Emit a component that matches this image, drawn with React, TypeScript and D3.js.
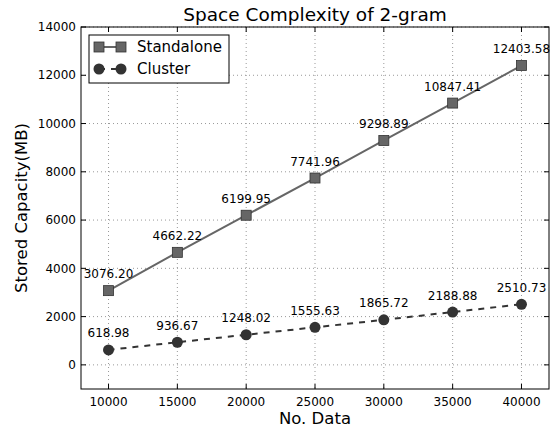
import React, { useEffect, useRef } from "react";
import * as d3 from "d3";

const noData = [10000, 15000, 20000, 25000, 30000, 35000, 40000];
const standalone = [3076.2, 4662.22, 6199.95, 7741.96, 9298.89, 10847.41, 12403.58];
const cluster = [618.98, 936.67, 1248.02, 1555.63, 1865.72, 2188.88, 2510.73];
const xTicks = [10000, 15000, 20000, 25000, 30000, 35000, 40000];
const yTicks = [0, 2000, 4000, 6000, 8000, 10000, 12000, 14000];

export default function App() {
  const ref = useRef<SVGSVGElement>(null);

  useEffect(() => {
    const svg = d3.select(ref.current);
    svg.selectAll("*").remove();
    const font = "DejaVu Sans";
    const m = { left: 81, top: 27, right: 549, bottom: 389 };

    const x = d3.scaleLinear().domain([8000, 42000]).range([m.left, m.right]);
    const y = d3.scaleLinear().domain([-1000, 14000]).range([m.bottom, m.top]);

    // grid
    const g = svg.append("g");
    xTicks.forEach((t) => {
      g.append("line")
        .attr("x1", x(t)).attr("x2", x(t))
        .attr("y1", m.top).attr("y2", m.bottom)
        .attr("stroke", "#999").attr("stroke-dasharray", "1,3");
    });
    yTicks.forEach((t) => {
      g.append("line")
        .attr("x1", m.left).attr("x2", m.right)
        .attr("y1", y(t)).attr("y2", y(t))
        .attr("stroke", "#999").attr("stroke-dasharray", "1,3");
    });

    // inward ticks
    xTicks.forEach((t) => {
      g.append("line").attr("x1", x(t)).attr("x2", x(t)).attr("y1", m.bottom).attr("y2", m.bottom - 5).attr("stroke", "#000");
      g.append("line").attr("x1", x(t)).attr("x2", x(t)).attr("y1", m.top).attr("y2", m.top + 5).attr("stroke", "#000");
      g.append("text").attr("x", x(t)).attr("y", m.bottom + 17)
        .attr("text-anchor", "middle").style("font-family", font).style("font-size", "12px").text(t);
    });
    yTicks.forEach((t) => {
      g.append("line").attr("x1", m.left).attr("x2", m.left + 5).attr("y1", y(t)).attr("y2", y(t)).attr("stroke", "#000");
      g.append("line").attr("x1", m.right).attr("x2", m.right - 5).attr("y1", y(t)).attr("y2", y(t)).attr("stroke", "#000");
      g.append("text").attr("x", m.left - 5).attr("y", y(t)).attr("dy", "0.35em")
        .attr("text-anchor", "end").style("font-family", font).style("font-size", "12px").text(t);
    });

    const line = d3.line<number>().x((d, i) => x(noData[i])).y((d) => y(d));

    svg.append("path").datum(standalone).attr("d", line)
      .attr("fill", "none").attr("stroke", "#666").attr("stroke-width", 2);
    svg.append("path").datum(cluster).attr("d", line)
      .attr("fill", "none").attr("stroke", "#333").attr("stroke-width", 2).attr("stroke-dasharray", "6,6");

    svg.selectAll(".sq").data(standalone).enter().append("rect")
      .attr("x", (d, i) => x(noData[i]) - 5).attr("y", (d) => y(d) - 5)
      .attr("width", 10).attr("height", 10)
      .attr("fill", "#666").attr("stroke", "#333").attr("stroke-width", 0.8);
    svg.selectAll(".ci").data(cluster).enter().append("circle")
      .attr("cx", (d, i) => x(noData[i])).attr("cy", (d) => y(d)).attr("r", 5.5)
      .attr("fill", "#333");

    const labels = (vals: number[]) =>
      vals.forEach((v, i) => {
        svg.append("text").attr("x", x(noData[i])).attr("y", y(v) - 12.5)
          .attr("text-anchor", "middle").style("font-family", font).style("font-size", "12px")
          .text(v.toFixed(2));
      });
    labels(standalone);
    labels(cluster);

    // frame
    svg.append("rect").attr("x", m.left).attr("y", m.top)
      .attr("width", m.right - m.left).attr("height", m.bottom - m.top)
      .attr("fill", "none").attr("stroke", "#000");

    // title and axis labels
    svg.append("text").attr("x", (m.left + m.right) / 2).attr("y", 21)
      .attr("text-anchor", "middle").style("font-family", font).style("font-size", "18.5px")
      .text("Space Complexity of 2-gram");
    svg.append("text").attr("x", (m.left + m.right) / 2).attr("y", 424)
      .attr("text-anchor", "middle").style("font-family", font).style("font-size", "16.5px")
      .text("No. Data");
    svg.append("text").attr("transform", `translate(27,${(m.top + m.bottom) / 2}) rotate(-90)`)
      .attr("text-anchor", "middle").style("font-family", font).style("font-size", "16.5px")
      .text("Stored Capacity(MB)");

    // legend
    const lg = svg.append("g");
    lg.append("rect").attr("x", 89).attr("y", 35).attr("width", 140).attr("height", 48)
      .attr("fill", "#fff").attr("stroke", "#000");
    lg.append("line").attr("x1", 99).attr("x2", 121).attr("y1", 47).attr("y2", 47).attr("stroke", "#666").attr("stroke-width", 2);
    [99, 121].forEach((cx) => {
      lg.append("rect").attr("x", cx - 5).attr("y", 42).attr("width", 10).attr("height", 10)
        .attr("fill", "#666").attr("stroke", "#333").attr("stroke-width", 0.8);
    });
    lg.append("line").attr("x1", 99).attr("x2", 121).attr("y1", 69).attr("y2", 69)
      .attr("stroke", "#333").attr("stroke-width", 2).attr("stroke-dasharray", "6,6");
    [99, 121].forEach((cx) => {
      lg.append("circle").attr("cx", cx).attr("cy", 69).attr("r", 5.5).attr("fill", "#333");
    });
    lg.append("text").attr("x", 137).attr("y", 47).attr("dy", "0.35em")
      .style("font-family", font).style("font-size", "15px").text("Standalone");
    lg.append("text").attr("x", 137).attr("y", 69).attr("dy", "0.35em")
      .style("font-family", font).style("font-size", "15px").text("Cluster");
  }, []);

  return (
    <svg ref={ref} width={557} height={427}
      style={{ position: "absolute", left: 0, top: 0, background: "#fff" }} />
  );
}
